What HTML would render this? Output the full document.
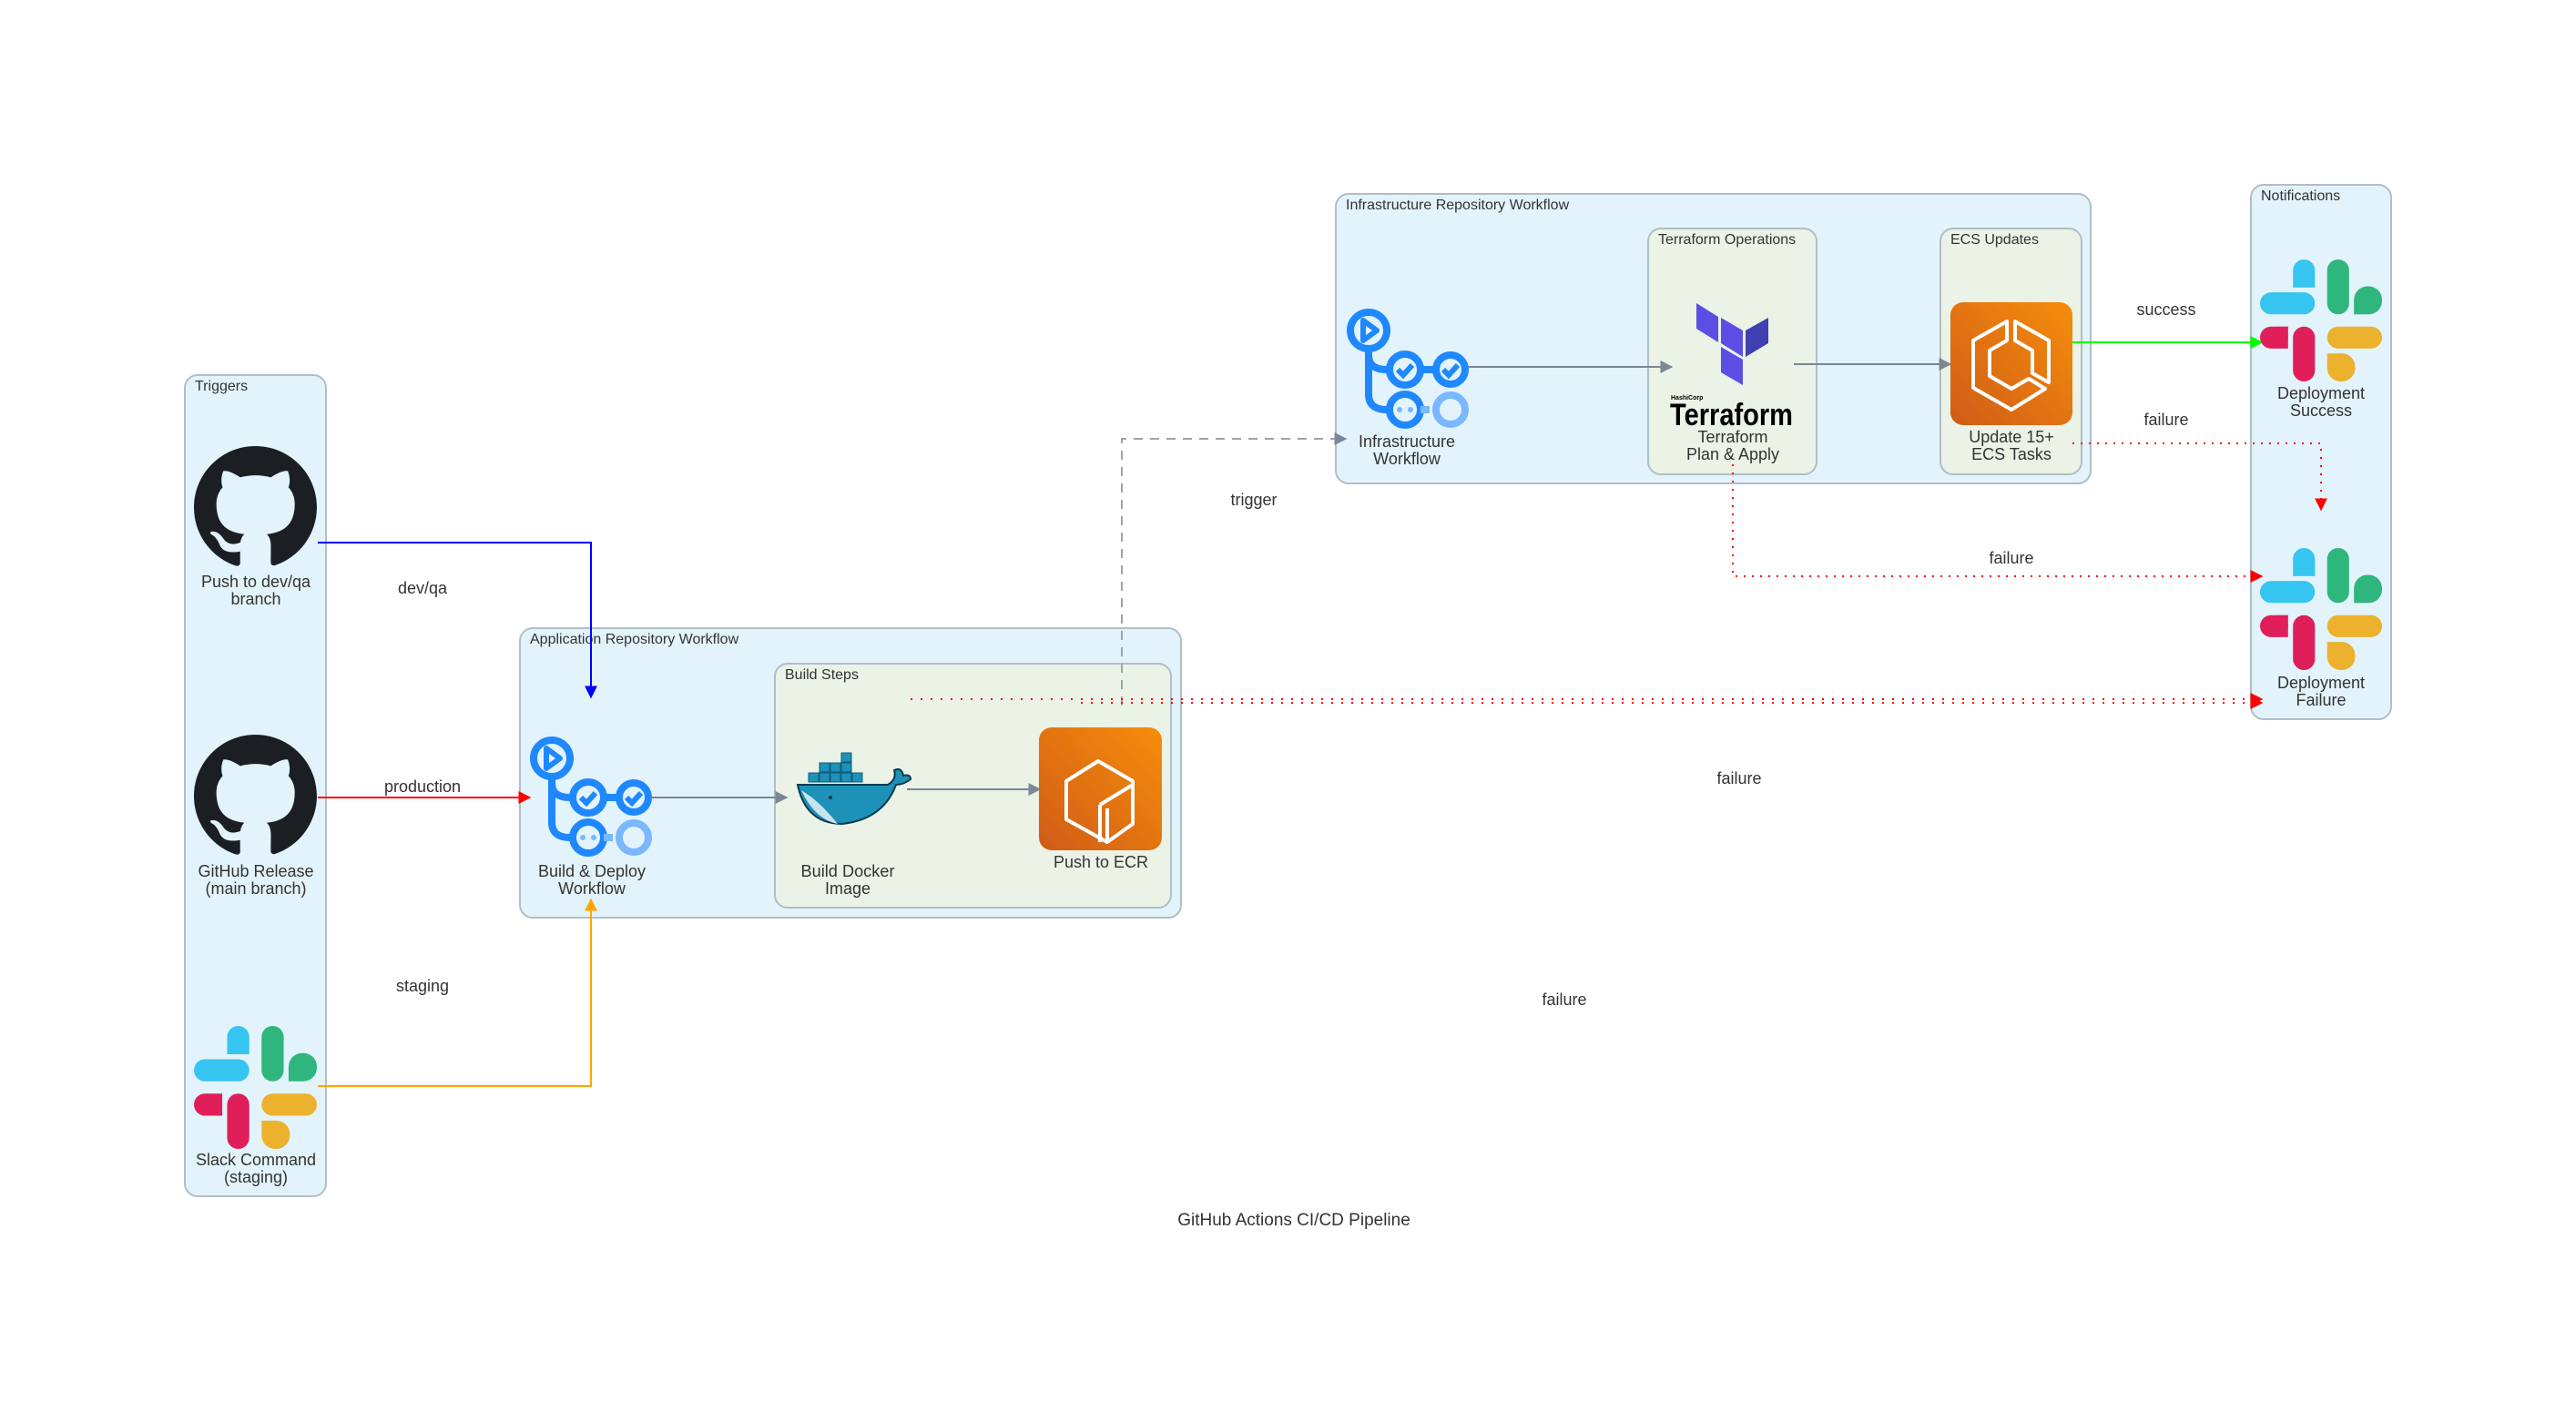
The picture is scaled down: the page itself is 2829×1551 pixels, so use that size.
<!DOCTYPE html>
<html><head><meta charset="utf-8"><style>
html,body{margin:0;padding:0;background:#fff}
svg{display:block}
text{font-family:"Liberation Sans",sans-serif;fill:#333}
.lb{font-size:18px;text-anchor:middle}
.ct{font-size:16px;fill:#333}
</style></head><body>
<svg width="2829" height="1551" viewBox="0 0 2829 1551" xmlns="http://www.w3.org/2000/svg">
<defs>
<symbol id="gh" viewBox="0 0 16 16"><path fill="#1b1f23" d="M8 0C3.58 0 0 3.58 0 8c0 3.54 2.29 6.53 5.47 7.59.4.07.55-.17.55-.38 0-.19-.01-.82-.01-1.49-2.01.37-2.530-.49-2.69-.94-.09-.23-.48-.94-.82-1.13-.28-.15-.68-.52-.01-.53.63-.01 1.08.58 1.23.76.72 1.21 1.87.87 2.33.66.07-.52.28-.87.51-1.07-1.78-.2-3.64-.89-3.64-3.95 0-.87.31-1.590.82-2.15-.08-.2-.36-1.02.08-2.12 0 0 .67-.21 2.2.82.64-.18 1.32-.27 2-.27.68 0 1.36.09 2 .27 1.53-1.04 2.2-.82 2.2-.82.44 1.1.16 1.92.08 2.12.51.56.82 1.27.82 2.15 0 3.07-1.87 3.75-3.65 3.95.29.25.54.73.54 1.48 0 1.07-.01 1.93-.01 2.2 0 .21.15.46.55.38A8.013 8.013 0 0016 8c0-4.42-3.58-8-8-8z"/></symbol>
<symbol id="slack" viewBox="0 0 100 100">
<rect x="27" y="0" width="18" height="23" rx="9" fill="#36c5f0"/><rect x="27" y="14" width="18" height="9" fill="#36c5f0"/>
<rect x="0" y="27" width="45" height="18" rx="9" fill="#36c5f0"/>
<rect x="55" y="0" width="18" height="45" rx="9" fill="#2eb67d"/>
<rect x="77" y="22" width="23" height="23" rx="11" fill="#2eb67d"/><rect x="77" y="34" width="10" height="11" fill="#2eb67d"/>
<rect x="0" y="55" width="23" height="18" rx="9" fill="#e01e5a"/><rect x="14" y="55" width="9" height="18" fill="#e01e5a"/>
<rect x="27" y="55" width="18" height="45" rx="9" fill="#e01e5a"/>
<rect x="55" y="55" width="45" height="18" rx="9" fill="#ecb22e"/>
<rect x="55" y="77" width="23" height="23" rx="11" fill="#ecb22e"/><rect x="55" y="77" width="11" height="10" fill="#ecb22e"/>
</symbol>
<symbol id="gha" viewBox="0 0 135 135">
<g fill="none" stroke="#2088ff" stroke-width="8">
<circle cx="25" cy="25" r="20"/>
<path d="M25 45 V52 Q25 68 45 68 H48 M25 52 V95 Q25 112 45 112 H48"/>
<circle cx="65" cy="68" r="17"/><circle cx="115" cy="68" r="16"/>
<path d="M82 68 H99"/>
<circle cx="65" cy="112" r="17"/>
<circle cx="115" cy="112" r="16" stroke="#79b8ff"/>
<path d="M82 112 H92" stroke="#79b8ff"/>
<path d="M57 68 l6 6 l10 -11 M107 68 l6 6 l10 -11" stroke-width="6"/>
</g>
<path d="M19 14 L34 25 L19 36 Z" fill="none" stroke="#2088ff" stroke-width="6" stroke-linejoin="round"/>
<circle cx="59" cy="112" r="3" fill="#79b8ff"/><circle cx="71" cy="112" r="3" fill="#79b8ff"/>
</symbol>
<linearGradient id="og" x1="0" y1="1" x2="1" y2="0"><stop offset="0" stop-color="#d05c17"/><stop offset="1" stop-color="#f68d0b"/></linearGradient>
<marker id="ag" viewBox="0 0 10 10" refX="9" refY="5" markerWidth="14" markerHeight="14" markerUnits="userSpaceOnUse" orient="auto"><path d="M0 0L10 5L0 10Z" fill="#7b8794"/></marker>
<marker id="ab" viewBox="0 0 10 10" refX="9" refY="5" markerWidth="14" markerHeight="14" markerUnits="userSpaceOnUse" orient="auto"><path d="M0 0L10 5L0 10Z" fill="#0000ff"/></marker>
<marker id="ar" viewBox="0 0 10 10" refX="9" refY="5" markerWidth="14" markerHeight="14" markerUnits="userSpaceOnUse" orient="auto"><path d="M0 0L10 5L0 10Z" fill="#ff0000"/></marker>
<marker id="ao" viewBox="0 0 10 10" refX="9" refY="5" markerWidth="14" markerHeight="14" markerUnits="userSpaceOnUse" orient="auto"><path d="M0 0L10 5L0 10Z" fill="#ffa500"/></marker>
<marker id="agr" viewBox="0 0 10 10" refX="9" refY="5" markerWidth="14" markerHeight="14" markerUnits="userSpaceOnUse" orient="auto"><path d="M0 0L10 5L0 10Z" fill="#00ff00"/></marker>
</defs>

<rect x="203" y="412" width="155" height="902" rx="14" fill="#e3f3fb" stroke="#b0bec5" stroke-width="2"/>
<text class="ct" x="214" y="429">Triggers</text>
<rect x="571" y="690" width="726" height="318" rx="14" fill="#e3f3fb" stroke="#b0bec5" stroke-width="2"/>
<text class="ct" x="582" y="707">Application Repository Workflow</text>
<rect x="851" y="729" width="435" height="268" rx="14" fill="#ebf2e6" stroke="#b0bec5" stroke-width="2"/>
<text class="ct" x="862" y="746">Build Steps</text>
<rect x="1467" y="213" width="829" height="318" rx="14" fill="#e3f3fb" stroke="#b0bec5" stroke-width="2"/>
<text class="ct" x="1478" y="230">Infrastructure Repository Workflow</text>
<rect x="1810" y="251" width="185" height="270" rx="14" fill="#ebf2e6" stroke="#b0bec5" stroke-width="2"/>
<text class="ct" x="1821" y="268">Terraform Operations</text>
<rect x="2131" y="251" width="155" height="270" rx="14" fill="#ebf2e6" stroke="#b0bec5" stroke-width="2"/>
<text class="ct" x="2142" y="268">ECS Updates</text>
<rect x="2472" y="203" width="154" height="587" rx="14" fill="#e3f3fb" stroke="#b0bec5" stroke-width="2"/>
<text class="ct" x="2483" y="220">Notifications</text>

<path d="M349 596 H649 V766" fill="none" stroke="#0000ff" stroke-width="2" marker-end="url(#ab)"/>
<path d="M349 876 H582" fill="none" stroke="#ff0000" stroke-width="2" marker-end="url(#ar)"/>
<path d="M349 1193 H649 V988" fill="none" stroke="#ffa500" stroke-width="2" marker-end="url(#ao)"/>
<path d="M716 876 H864" fill="none" stroke="#7b8794" stroke-width="2" marker-end="url(#ag)"/>
<path d="M996 867 H1142" fill="none" stroke="#7b8794" stroke-width="2" marker-end="url(#ag)"/>
<path d="M1232 775 V482 H1478" fill="none" stroke="#9aa5ad" stroke-width="2" stroke-dasharray="10,8" marker-end="url(#ag)"/>
<path d="M1612 403 H1836" fill="none" stroke="#7b8794" stroke-width="2" marker-end="url(#ag)"/>
<path d="M1970 400 H2142" fill="none" stroke="#7b8794" stroke-width="2" marker-end="url(#ag)"/>
<path d="M2276 376 H2484" fill="none" stroke="#00ff00" stroke-width="2" marker-end="url(#agr)"/>
<path d="M2276 487 H2549 V560" fill="none" stroke="#ff0000" stroke-width="2" stroke-dasharray="2,7" marker-end="url(#ar)"/>
<path d="M1903 510 V633 H2484" fill="none" stroke="#ff0000" stroke-width="2" stroke-dasharray="2,7" marker-end="url(#ar)"/>
<path d="M1000 768 H2484" fill="none" stroke="#ff0000" stroke-width="2" stroke-dasharray="2,9" marker-end="url(#ar)"/>
<path d="M1187 772 H2484" fill="none" stroke="#ff0000" stroke-width="2" stroke-dasharray="2,9" marker-end="url(#ar)"/>

<text class="lb" x="464" y="652">dev/qa</text>
<text class="lb" x="464" y="870">production</text>
<text class="lb" x="464" y="1089">staging</text>
<text class="lb" x="1377" y="555">trigger</text>
<text class="lb" x="2379" y="346">success</text>
<text class="lb" x="2379" y="467">failure</text>
<text class="lb" x="2209" y="619">failure</text>
<text class="lb" x="1910" y="861">failure</text>
<text class="lb" x="1718" y="1104">failure</text>

<use href="#gh" x="213" y="490" width="135" height="135"/>
<text class="lb" x="281" y="645">Push to dev/qa</text>
<text class="lb" x="281" y="664">branch</text>
<use href="#gh" x="213" y="807" width="135" height="135"/>
<text class="lb" x="281" y="963">GitHub Release</text>
<text class="lb" x="281" y="982">(main branch)</text>
<use href="#slack" x="213" y="1127" width="135" height="135"/>
<text class="lb" x="281" y="1280">Slack Command</text>
<text class="lb" x="281" y="1299">(staging)</text>

<use href="#gha" x="581" y="808" width="135" height="135"/>
<text class="lb" x="650" y="963">Build &amp; Deploy</text>
<text class="lb" x="650" y="982">Workflow</text>

<g>
<g fill="#1d91b8" stroke="#0b5e7a" stroke-width="1">
<rect x="888" y="849" width="11" height="10"/><rect x="900" y="849" width="11" height="10"/><rect x="912" y="849" width="11" height="10"/><rect x="924" y="849" width="11" height="10"/><rect x="936" y="849" width="11" height="10"/>
<rect x="900" y="838" width="11" height="10"/><rect x="912" y="838" width="11" height="10"/><rect x="924" y="838" width="11" height="10"/>
<rect x="924" y="827" width="11" height="10"/>
</g>
<path d="M876 862 H975 Q985 856 982 846 Q990 842 992 852 Q1000 850 1000 856 Q992 862 984 862 Q970 900 925 905 Q885 905 876 862 Z" fill="#1d91b8" stroke="#0b3c4f" stroke-width="2"/>
<path d="M880 868 Q900 880 920 905 Q895 900 880 868 Z" fill="#c8e3ee"/>
<circle cx="912" cy="876" r="2" fill="#0b3c4f"/>
</g>
<text class="lb" x="931" y="963" textLength="103" lengthAdjust="spacingAndGlyphs">Build Docker</text>
<text class="lb" x="931" y="982">Image</text>

<rect x="1141" y="799" width="135" height="135" rx="14" fill="url(#og)"/>
<g fill="none" stroke="#fff" stroke-width="4" stroke-linejoin="round">
<path d="M1171 858 L1206 836 L1244 858 L1244 905 L1216 925 L1171 900 Z"/>
<path d="M1208 884 L1244 862 M1208 884 L1208 925 M1216 925 L1216 888"/>
</g>
<text class="lb" x="1209" y="953">Push to ECR</text>

<use href="#gha" x="1478" y="338" width="135" height="135"/>
<text class="lb" x="1545" y="491">Infrastructure</text>
<text class="lb" x="1545" y="510">Workflow</text>

<polygon points="1863,333 1887,348 1887,376 1863,361" fill="#5c4ee5"/>
<polygon points="1890,349 1914,363 1914,392 1890,377" fill="#5c4ee5"/>
<polygon points="1917,363 1942,349 1942,377 1917,392" fill="#4040b2"/>
<polygon points="1890,381 1914,395 1914,423 1890,409" fill="#5c4ee5"/>
<text x="1835" y="439" style="font-size:7px;font-weight:bold;fill:#000">HashiCorp</text>
<text x="1834" y="467" textLength="135" lengthAdjust="spacingAndGlyphs" style="font-size:34px;font-weight:bold;fill:#000">Terraform</text>
<text class="lb" x="1903" y="486">Terraform</text>
<text class="lb" x="1903" y="505">Plan &amp; Apply</text>

<rect x="2142" y="332" width="134" height="135" rx="14" fill="url(#og)"/>
<g fill="none" stroke="#fff" stroke-width="4" stroke-linejoin="round">
<path d="M2204 353 L2167 374 L2167 426 L2209 450 L2246 427 L2228 416 L2209 427 L2185 413 L2185 385 L2204 374 Z"/>
<path d="M2213 353 L2250 374 L2250 420 L2232 410 L2232 385 L2213 374 Z"/>
</g>
<text class="lb" x="2209" y="486">Update 15+</text>
<text class="lb" x="2209" y="505">ECS Tasks</text>

<use href="#slack" x="2482" y="285" width="134" height="134"/>
<text class="lb" x="2549" y="438">Deployment</text>
<text class="lb" x="2549" y="457">Success</text>
<use href="#slack" x="2482" y="602" width="134" height="134"/>
<text class="lb" x="2549" y="756">Deployment</text>
<text class="lb" x="2549" y="775">Failure</text>

<text class="lb" x="1421" y="1346" style="font-size:19px">GitHub Actions CI/CD Pipeline</text>
</svg>
</body></html>
